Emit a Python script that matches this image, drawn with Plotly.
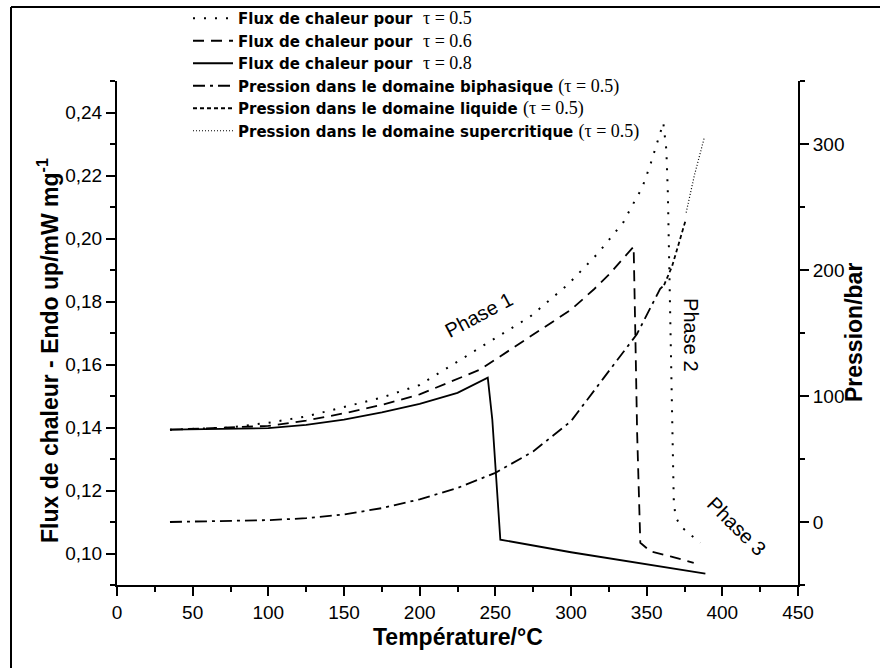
import plotly.graph_objects as go

# flux de chaleur (mW/mg) - axe de gauche
t_05 = [35, 75, 100, 125, 150, 175, 200, 220, 250, 273, 298, 318, 335, 339, 347, 352, 361,
        363, 364, 364.6, 365.2, 365.7, 366.8, 367.9, 369, 372.3, 378.9, 385.5]
f_05 = [0.1393, 0.1400, 0.1415, 0.1435, 0.1465, 0.1495, 0.1535, 0.1594, 0.1683, 0.1752, 0.1854,
        0.1954, 0.2054, 0.2092, 0.2161, 0.2228, 0.2367,
        0.2282, 0.2145, 0.1987, 0.1879, 0.1774, 0.1489, 0.1170, 0.1118, 0.1087, 0.1060, 0.1034]

t_06 = [35, 100, 125, 150, 175, 200, 240, 278, 300, 315, 326, 336, 341.4,
        342.5, 343.7, 345.8, 352.5, 365.7, 381.1]
f_06 = [0.1393, 0.1405, 0.1422, 0.1445, 0.1472, 0.1505, 0.1584, 0.1704, 0.1774, 0.1838, 0.1890,
        0.1945, 0.1974, 0.1700, 0.1383, 0.1034, 0.1007, 0.0991, 0.0970]

t_08 = [35, 100, 125, 150, 175, 200, 225, 245, 248, 253.3, 300, 350, 388.8]
f_08 = [0.1393, 0.1398, 0.1408, 0.1425, 0.1448, 0.1475, 0.1510, 0.1558, 0.1425, 0.1044,
        0.1004, 0.0966, 0.0936]

# pression (bar) - axe de droite
t_bi = [35, 100, 125, 150, 175, 200, 225, 250, 275, 300, 321.4, 343.5, 358.9, 361.5]
p_bi = [0, 1.5, 3, 6, 11, 18, 27, 39, 56, 80, 114, 149, 185, 188]
t_liq = [361.5, 366.8, 370.5, 374.1, 375.6]
p_liq = [188, 203, 218, 234, 239]
t_sc = [376.1, 381.5, 388.1]
p_sc = [245.6, 275, 305.1]

W, H = 880, 668
L, R, T, B = 117, 82, 81, 83
pw, ph = W - L - R, H - T - B

FONT = "Liberation Sans, Arial, sans-serif"
LEG_FONT = "DejaVu Sans, Liberation Sans, sans-serif"
SERIF = "Liberation Serif, Times New Roman, serif"


def lname(txt, tau):
    return ("<b>" + txt + "</b><span style='font-family:" + SERIF + ";font-size:18px'>"
            + tau + "</span>")


fig = go.Figure()
lw = 1.8
fig.add_trace(go.Scatter(x=t_05, y=f_05, mode='lines', legendgroup='a',
                         name=lname("Flux de chaleur pour  ", "τ = 0.5"),
                         line=dict(color='black', width=2, dash='2px,9px')))
fig.add_trace(go.Scatter(x=t_06, y=f_06, mode='lines', legendgroup='b',
                         name=lname("Flux de chaleur pour  ", "τ = 0.6"),
                         line=dict(color='black', width=lw, dash='11px,7px')))
fig.add_trace(go.Scatter(x=t_08, y=f_08, mode='lines', legendgroup='c',
                         name=lname("Flux de chaleur pour  ", "τ = 0.8"),
                         line=dict(color='black', width=lw)))
fig.add_trace(go.Scatter(x=t_bi, y=p_bi, mode='lines', yaxis='y2', legendgroup='d',
                         name=lname("Pression dans le domaine biphasique ", "(τ = 0.5)"),
                         line=dict(color='black', width=lw, dash='12px,5px,3px,5px')))
fig.add_trace(go.Scatter(x=t_liq, y=p_liq, mode='lines', yaxis='y2', legendgroup='e',
                         name=lname("Pression dans le domaine liquide ", "(τ = 0.5)"),
                         line=dict(color='black', width=lw, dash='4px,3px')))
fig.add_trace(go.Scatter(x=t_sc, y=p_sc, mode='lines', yaxis='y2', legendgroup='f',
                         name=lname("Pression dans le domaine supercritique ", "(τ = 0.5)"),
                         line=dict(color='black', width=1.2, dash='1px,2px')))

tick_font = dict(family=FONT, size=19, color='black')
axis_common = dict(showline=True, linewidth=2, linecolor='black', showgrid=False,
                   zeroline=False, ticks='outside', ticklen=9, tickwidth=2, tickcolor='black',
                   tickfont=tick_font)

fig.update_layout(
    width=W, height=H,
    margin=dict(l=L, r=R, t=T, b=B, autoexpand=False),
    paper_bgcolor='white', plot_bgcolor='white',
    separators=', ',
    font=dict(family=FONT, color='black'),
    xaxis=dict(range=[0, 450], dtick=50, tick0=0,
               minor=dict(dtick=25, ticks='outside', ticklen=5, tickwidth=2, tickcolor='black'),
               **axis_common),
    yaxis=dict(range=[0.09, 0.25], dtick=0.02, tick0=0.10, tickformat='.2f',
               minor=dict(dtick=0.01, ticks='outside', ticklen=5, tickwidth=2, tickcolor='black'),
               **axis_common),
    yaxis2=dict(range=[-50, 350], dtick=100, tick0=0, overlaying='y', side='right',
                minor=dict(dtick=50, ticks='outside', ticklen=5, tickwidth=2, tickcolor='black'),
                **axis_common),
    legend=dict(x=(188 - L) / pw, y=1 + (T - 2) / ph, xanchor='left', yanchor='top',
                bgcolor='rgba(0,0,0,0)', itemwidth=40, tracegroupgap=0,
                font=dict(family=LEG_FONT, size=15, color='black')),
    showlegend=True,
)

title_font = dict(family=FONT, size=23, color='black')
fig.add_annotation(xref='paper', yref='paper', x=0, y=0.5, xshift=-86, yshift=-18,
                   text="<b>Flux de chaleur - Endo up/mW mg<sup>-1</sup></b>",
                   textangle=-90, showarrow=False, font=title_font)
fig.add_annotation(xref='paper', yref='paper', x=0.5, y=0, yshift=-67,
                   text="<b>Température/°C</b>", showarrow=False, font=title_font)
fig.add_annotation(xref='paper', yref='paper', x=1, y=0.5, xshift=(869 - (W - R)), yshift=0,
                   text="<b>Pression/bar</b>", textangle=-90, showarrow=False, font=title_font)

phase_font = dict(family=FONT, size=20, color='black')
fig.add_annotation(x=238.7, y=0.1758, text="Phase 1", textangle=-28, showarrow=False, font=phase_font)
fig.add_annotation(x=379.6, y=0.1695, text="Phase 2", textangle=90, showarrow=False, font=phase_font)
fig.add_annotation(x=409.2, y=0.1087, text="Phase 3", textangle=45, showarrow=False, font=phase_font)

# cadre de la page
fx0 = (11 - L) / pw
fy0 = 1 + (T - 7) / ph
fig.add_shape(type='line', xref='paper', yref='paper', x0=fx0, x1=fx0, y0=fy0, y1=-0.3,
              line=dict(color='black', width=2))
fig.add_shape(type='line', xref='paper', yref='paper', x0=fx0, x1=1.3, y0=fy0, y1=fy0,
              line=dict(color='black', width=2))

fig.write_html("out.html", config={'displayModeBar': False},
               post_script="document.body.style.margin='0';")
